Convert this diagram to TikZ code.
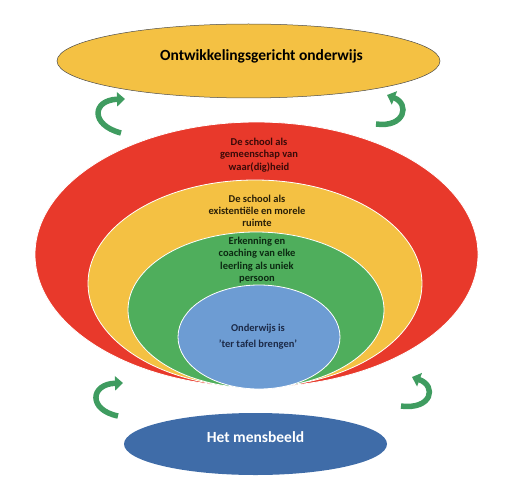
\documentclass[tikz,border=0pt]{standalone}
\usepackage{fontspec}
\setmainfont{Carlito}
\usetikzlibrary{shapes.geometric,arrows.meta,positioning,calc}
\definecolor{gold}{HTML}{F4C143}
\definecolor{redring}{HTML}{E8392B}
\definecolor{greenring}{HTML}{4FAE5C}
\definecolor{lightblue}{HTML}{6D9CD3}
\definecolor{darkblue}{HTML}{3F6CA8}
\definecolor{arrowgreen}{HTML}{3F9C60}
\definecolor{redtext}{HTML}{3A0A08}
\definecolor{goldtext}{HTML}{2A2008}
\definecolor{greentext}{HTML}{0C2A12}
\definecolor{bluetext}{HTML}{1C2A48}
\tikzset{
  ring/.style={ellipse, draw=white, line width=0.8pt, inner sep=0pt},
  ringtext/.style={font=\bfseries\fontsize{10.5}{12.3}\selectfont, align=center, inner sep=0pt},
  bendarrow/.style={draw=arrowgreen, line width=5.5pt, -{Triangle[length=8pt,width=14pt]}},
}

\begin{document}
\begin{tikzpicture}[x=1pt,y=-1pt]
\useasboundingbox (0,0) rectangle (505,500);
% bovenste ellips
\node[ellipse, fill=gold, draw=gray!60!black, line width=0.5pt, minimum width=383pt, minimum height=74pt] (ontw) at (248.5,61) {};
\node[font=\bfseries\fontsize{15.5}{18}\selectfont] (ontwtext) at ($(ontw.center)+(13,-5)$) {Ontwikkelingsgericht onderwijs};
% ringen
\node[ring, fill=redring, minimum width=443pt, minimum height=265pt] (school) at (256.5,254.5) {};
\node[ring, fill=gold, minimum width=334pt, minimum height=207pt] (ruimte) at (255,283.5) {};
\node[ring, fill=greenring, minimum width=256pt, minimum height=156pt] (leerling) at (256,310) {};
\node[ring, fill=lightblue, minimum width=162pt, minimum height=104pt] (tafel) at (259,337) {};
\node[ringtext, text=redtext] (schooltext) at (259,155) {De school als\\gemeenschap van\\waar(dig)heid};
\node[ringtext, text=goldtext] (ruimtetext) at (257,211) {De school als\\existentiële en morele\\ruimte};
\node[ringtext, text=greentext] (leerlingtext) at (257,260) {Erkenning en\\coaching van elke\\leerling als uniek\\persoon};
\node[ringtext, text=bluetext, font=\bfseries\fontsize{10.5}{16}\selectfont] (tafeltext) at (258,337) {Onderwijs is\\'ter tafel brengen'};
% onderste ellips
\node[ellipse, fill=darkblue, minimum width=263pt, minimum height=62pt] (mens) at (255.5,444) {};
\node[font=\bfseries\fontsize{15.5}{18}\selectfont, text=white] (menstext) at ($(mens.center)+(0,-7)$) {Het mensbeeld};
% pijlen
\coordinate (tl tail) at (121,133);
\coordinate (tl head) at (125,99);
\coordinate (tr tail) at (376,124);
\coordinate (tr head) at (387,95);
\coordinate (bl tail) at (118,416);
\coordinate (bl head) at (123,383);
\coordinate (br tail) at (401,406);
\coordinate (br head) at (412,377);
\draw[bendarrow] (tl tail) .. controls (90,125) and (92,100) .. (tl head);
\draw[bendarrow] (tr tail) .. controls (405,128) and (410,104) .. (tr head);
\draw[bendarrow] (bl tail) .. controls (88,410) and (90,384) .. (bl head);
\draw[bendarrow] (br tail) .. controls (432,410) and (437,386) .. (br head);
\end{tikzpicture}
\end{document}
